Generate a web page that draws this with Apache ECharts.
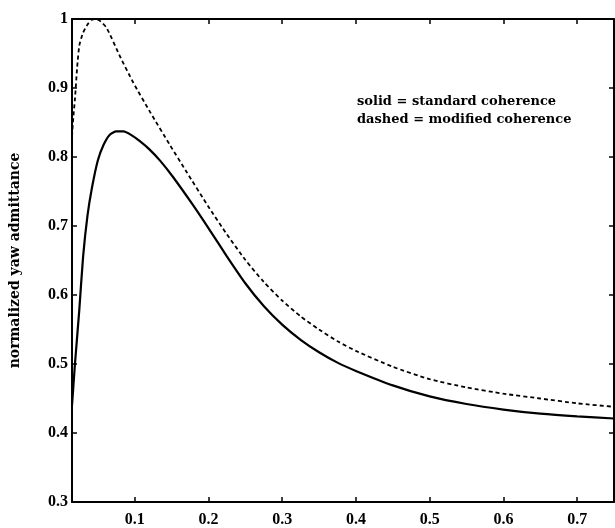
<!DOCTYPE html>
<html>
<head>
<meta charset="utf-8">
<script src="https://cdn.jsdelivr.net/npm/echarts@6/dist/echarts.min.js"></script>
<style>
  html, body { margin: 0; padding: 0; background: #fff; }
  #chart { width: 615px; height: 528px; }
</style>
</head>
<body>
<div id="chart"></div>
<script>
// x ticks / y ticks
var xTicks = [0.1, 0.2, 0.3, 0.4, 0.5, 0.6, 0.7]
var yTicks = [0.3, 0.4, 0.5, 0.6, 0.7, 0.8, 0.9, 1]

// solid = standard coherence
var solidX = [0.015, 0.017, 0.019, 0.025, 0.030, 0.036, 0.042, 0.050, 0.058, 0.066, 0.075, 0.085, 0.095, 0.107, 0.120, 0.135, 0.152, 0.178, 0.200, 0.225, 0.250, 0.275, 0.300, 0.325, 0.350, 0.375, 0.400, 0.450, 0.500, 0.550, 0.600, 0.650, 0.700, 0.750]
var solidY = [0.44, 0.47, 0.50, 0.58, 0.655, 0.715, 0.755, 0.795, 0.818, 0.832, 0.837, 0.837, 0.832, 0.823, 0.811, 0.794, 0.771, 0.732, 0.697, 0.656, 0.617, 0.584, 0.557, 0.535, 0.517, 0.502, 0.490, 0.469, 0.453, 0.442, 0.434, 0.428, 0.424, 0.421]

// dashed = modified coherence
var dashedX = [0.015, 0.017, 0.019, 0.022, 0.025, 0.030, 0.036, 0.042, 0.046, 0.052, 0.062, 0.080, 0.098, 0.121, 0.148, 0.170, 0.200, 0.225, 0.250, 0.275, 0.300, 0.325, 0.350, 0.375, 0.400, 0.450, 0.500, 0.550, 0.600, 0.650, 0.700, 0.750]
var dashedY = [0.83, 0.86, 0.884, 0.93, 0.962, 0.98, 0.992, 0.999, 1.0, 0.998, 0.987, 0.946, 0.908, 0.865, 0.817, 0.779, 0.728, 0.688, 0.651, 0.619, 0.592, 0.569, 0.550, 0.533, 0.519, 0.496, 0.478, 0.466, 0.457, 0.450, 0.443, 0.438]

function pairs(xs, ys) {
  return xs.map(function (x, i) { return [x, ys[i]] })
}

var labelFont = {
  fontFamily: "Liberation Serif",
  fontWeight: "bold",
  fontSize: 16,
  color: "#000"
}

var chartDom = echarts.init(document.getElementById("chart"))
var option = {
  animation: false,
  backgroundColor: "#fff",
  grid: {
    left: 71,
    right: 1,
    top: 19,
    bottom: 21,
    containLabel: false
  },
  xAxis: [
    {
      type: "value",
      min: 0.015,
      max: 0.75,
      axisLine: { show: true, onZero: false, lineStyle: { color: "#000", width: 2 } },
      axisTick: { show: true, inside: true, length: 5, customValues: xTicks, lineStyle: { color: "#000", width: 1.5 } },
      axisLabel: Object.assign({ customValues: xTicks, margin: 10, formatter: function (v) { return String(+v.toFixed(2)) } }, labelFont),
      splitLine: { show: false }
    },
    {
      type: "value",
      position: "top",
      min: 0.015,
      max: 0.75,
      axisLine: { show: true, onZero: false, lineStyle: { color: "#000", width: 2 } },
      axisTick: { show: true, inside: true, length: 5, customValues: xTicks, lineStyle: { color: "#000", width: 1.5 } },
      axisLabel: { show: false },
      splitLine: { show: false }
    }
  ],
  yAxis: [
    {
      type: "value",
      min: 0.3,
      max: 1,
      name: "normalized yaw admittance",
      nameLocation: "middle",
      nameGap: 50,
      nameTextStyle: {
        fontFamily: "DejaVu Serif",
        fontWeight: "bold",
        fontSize: 14,
        color: "#000"
      },
      axisLine: { show: true, onZero: false, lineStyle: { color: "#000", width: 2 } },
      axisTick: { show: true, inside: true, length: 5, customValues: yTicks, lineStyle: { color: "#000", width: 1.5 } },
      axisLabel: Object.assign({ customValues: yTicks, margin: 4, formatter: function (v) { return String(+v.toFixed(2)) } }, labelFont),
      splitLine: { show: false }
    },
    {
      type: "value",
      position: "right",
      min: 0.3,
      max: 1,
      axisLine: { show: true, onZero: false, lineStyle: { color: "#000", width: 2 } },
      axisTick: { show: true, inside: true, length: 5, customValues: yTicks, lineStyle: { color: "#000", width: 1.5 } },
      axisLabel: { show: false },
      splitLine: { show: false }
    }
  ],
  graphic: [
    {
      type: "text",
      left: 357,
      top: 95,
      style: { text: "solid = standard coherence", font: "bold 13px 'DejaVu Serif'", fill: "#000" }
    },
    {
      type: "text",
      left: 357,
      top: 113,
      style: { text: "dashed = modified coherence", font: "bold 13px 'DejaVu Serif'", fill: "#000" }
    }
  ],
  series: [
    {
      name: "standard coherence",
      type: "line",
      data: pairs(solidX, solidY),
      showSymbol: false,
      smooth: 0.2,
      lineStyle: { color: "#000", width: 2.2, type: "solid" }
    },
    {
      name: "modified coherence",
      type: "line",
      data: pairs(dashedX, dashedY),
      showSymbol: false,
      smooth: 0.2,
      lineStyle: { color: "#000", width: 1.8, type: [4, 3] }
    }
  ]
}
chartDom.setOption(option, true)
window.addEventListener("resize", function () {
  chartDom.resize()
})
</script>
</body>
</html>
